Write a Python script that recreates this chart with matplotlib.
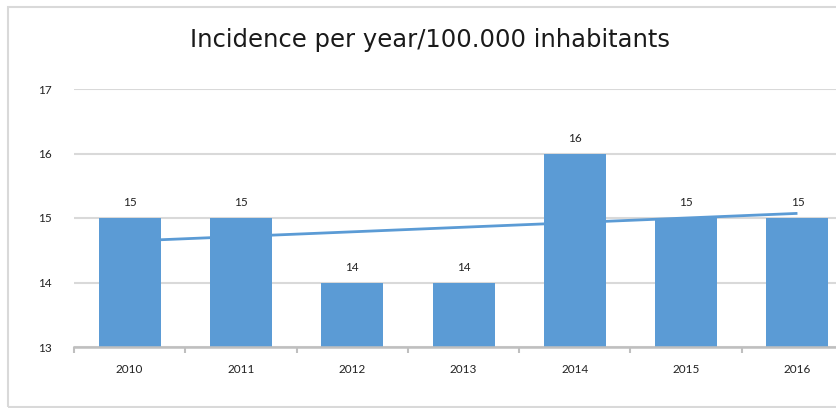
import matplotlib
matplotlib.use("Agg")
import matplotlib.pyplot as plt
from matplotlib.patches import Rectangle
import numpy as np

years = ["2010", "2011", "2012", "2013", "2014", "2015", "2016"]
values = [15, 15, 14, 14, 16, 15, 15]
yticks = [13, 14, 15, 16, 17]
title = "Incidence per year/100.000 inhabitants"

W, H = 837, 408
fig = plt.figure(figsize=(W / 100, H / 100), dpi=100)
fig.patch.set_facecolor("white")

# outer chart border (right side cropped)
fig.patches.append(Rectangle((8 / W, 1 - 406.5 / H), 1.2, (406.5 - 7.3) / H,
                             transform=fig.transFigure, fill=False,
                             edgecolor="#d9d9d9", linewidth=1.5, zorder=0))

left = 74 / W
right_px = 74 + 7 * 111.3
ax = fig.add_axes([left, 1 - 347 / H, (right_px - 74) / W, (347 - 89) / H])
ax.set_facecolor("none")

x = np.arange(len(years))
bar_color = "#5B9BD5"

# linear trendline (behind bars)
coef = np.polyfit(x, values, 1)
ax.plot([x[0], x[-1]], np.polyval(coef, [x[0], x[-1]]), color=bar_color,
        linewidth=2, zorder=2, solid_capstyle="butt")

ax.bar(x, values, width=0.557, color=bar_color, zorder=3)

for xi, v in zip(x, values):
    ax.text(xi, v + 0.15, str(v), ha="center", va="bottom", fontsize=8.5,
            family="Lato", color="#222222", zorder=4)

ax.set_xlim(-0.5, len(years) - 0.5)
ax.set_ylim(yticks[0], yticks[-1])
ax.set_yticks(yticks)
ax.set_yticklabels([str(t) for t in yticks], family="Lato", fontsize=8.5,
                   color="#222222")
ax.yaxis.grid(True, color="#d9d9d9", linewidth=1.5, zorder=0)
ax.set_axisbelow(True)
ax.tick_params(axis="y", length=0, pad=16)

ax.set_xticks(x)
ax.set_xticklabels(years, family="Lato", fontsize=8.5, color="#222222")
ax.set_xticks(np.arange(len(years) + 1) - 0.5, minor=True)
ax.tick_params(axis="x", which="major", length=0, pad=12)
ax.tick_params(axis="x", which="minor", length=4, width=1.5, color="#bfbfbf",
               direction="out")

for s in ["top", "right", "left"]:
    ax.spines[s].set_visible(False)
ax.spines["bottom"].set_color("#bfbfbf")
ax.spines["bottom"].set_linewidth(1.8)
ax.spines["bottom"].set_zorder(5)

fig.text(430 / W, 1 - 40 / H, title, ha="center", va="center", fontsize=17.5,
         family="DejaVu Sans", color="#1a1a1a")

fig.savefig("out.png", dpi=100, facecolor="white")
